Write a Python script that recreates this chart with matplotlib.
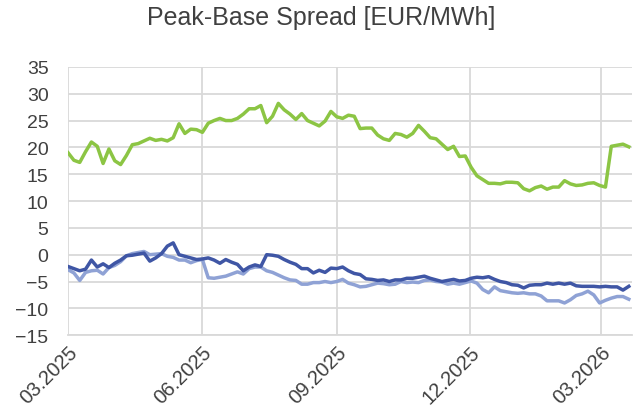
import pandas as pd
import matplotlib
matplotlib.use("Agg")
import matplotlib.pyplot as plt
import matplotlib.dates as mdates

plt.rcParams['font.family'] = ['Liberation Sans', 'DejaVu Sans']

# one reading every four days, starting 01.03.2025
dates = pd.date_range('2025-03-01', periods=97, freq='4D')

spread_green = [
    19.0, 17.6, 17.2, 19.2, 21.0, 20.2, 17.0, 19.7, 17.5, 16.8,
    18.5, 20.5, 20.7, 21.2, 21.7, 21.3, 21.5, 21.2, 21.8, 24.4,
    22.6, 23.4, 23.3, 22.8, 24.5, 25.0, 25.4, 25.0, 25.0, 25.4,
    26.2, 27.2, 27.2, 27.8, 24.6, 25.8, 28.2, 27.0, 26.2, 25.2,
    26.3, 25.0, 24.5, 24.0, 24.9, 26.7, 25.7, 25.4, 26.0, 25.8,
    23.5, 23.6, 23.6, 22.3, 21.6, 21.3, 22.6, 22.4, 21.9, 22.6,
    24.1, 23.0, 21.8, 21.6, 20.6, 19.6, 20.2, 18.3, 18.4, 16.3,
    14.7, 14.0, 13.3, 13.3, 13.2, 13.5, 13.5, 13.4, 12.3, 11.9,
    12.5, 12.8, 12.2, 12.6, 12.6, 13.8, 13.2, 12.9, 13.0, 13.3,
    13.4, 12.9, 12.6, 20.2, 20.4, 20.6, 20.1,
]

spread_dark = [
    -2.2, -2.6, -3.0, -2.7, -1.0, -2.3, -1.7, -2.4, -1.6, -1.0,
    -0.2, -0.1, 0.1, 0.3, -1.2, -0.6, 0.2, 1.6, 2.2, 0.0,
    -0.3, -0.6, -0.9, -0.8, -0.6, -1.0, -1.6, -0.9, -1.4, -1.8,
    -3.0, -2.3, -1.9, -2.2, 0.0, -0.1, -0.3, -0.9, -1.4, -1.8,
    -2.6, -2.6, -3.4, -2.9, -3.3, -2.5, -2.6, -2.3, -3.0, -3.5,
    -3.7, -4.5, -4.6, -4.8, -4.7, -5.0, -4.7, -4.7, -4.4, -4.4,
    -4.2, -4.0, -4.4, -4.7, -5.0, -4.8, -4.6, -4.9, -4.8, -4.4,
    -4.2, -4.3, -4.1, -4.6, -5.0, -5.2, -5.6, -5.7, -6.2, -5.7,
    -5.6, -5.6, -5.3, -5.5, -5.3, -5.5, -5.3, -5.8, -5.9, -5.9,
    -5.9, -6.0, -5.9, -6.0, -6.0, -6.6, -5.9,
]

spread_light = [
    -2.8, -3.4, -4.8, -3.3, -3.0, -2.9, -3.6, -2.4, -2.0, -1.3,
    -0.2, 0.2, 0.4, 0.6, 0.0, 0.1, 0.2, -0.3, -0.5, -1.0,
    -1.0, -1.5, -1.1, -0.9, -4.3, -4.4, -4.2, -4.0, -3.6, -3.2,
    -3.6, -2.6, -2.3, -2.3, -3.0, -3.3, -3.8, -4.3, -4.7, -4.8,
    -5.5, -5.5, -5.2, -5.2, -5.0, -5.2, -5.0, -4.6, -5.3, -5.6,
    -6.0, -5.9, -5.6, -5.3, -5.4, -5.6, -5.5, -5.0, -5.2, -5.1,
    -5.2, -4.8, -4.7, -5.0, -5.1, -5.5, -5.3, -5.5, -5.2, -4.9,
    -5.3, -6.5, -7.1, -6.0, -6.7, -6.9, -7.1, -7.2, -7.1, -7.3,
    -7.3, -7.7, -8.6, -8.6, -8.6, -9.0, -8.4, -7.6, -7.3, -6.8,
    -7.5, -9.0, -8.5, -8.1, -7.8, -7.8, -8.3,
]

tick_dates = pd.to_datetime(['2025-03-01', '2025-06-01', '2025-09-01',
                             '2025-12-01', '2026-03-01'])
y_ticks = list(range(-15, 36, 5))

fig = plt.figure(figsize=(6.42, 4.14), dpi=100)
ax = fig.add_axes([0.106, 0.188, 0.878, 0.648])

ax.plot(dates, spread_light, color='#8FA2D5', lw=2.5, zorder=3)
ax.plot(dates, spread_dark, color='#3F56A5', lw=2.5, zorder=4)
ax.plot(dates, spread_green, color='#8CC544', lw=2.5, zorder=5)

ax.set_xlim(pd.Timestamp('2025-03-01'), pd.Timestamp('2026-03-22'))
ax.set_ylim(-15, 35)
ax.set_yticks(y_ticks)
ax.set_xticks(tick_dates)
ax.xaxis.set_major_formatter(mdates.DateFormatter('%m.%Y'))

ax.grid(True, color='#D9D9D9', lw=1.3)
ax.set_axisbelow(True)
for side in ['top', 'right', 'left']:
    ax.spines[side].set_visible(False)
ax.spines['bottom'].set_color('#D9D9D9')
ax.spines['bottom'].set_linewidth(1.3)

ax.tick_params(length=0, colors='#404040')
ax.tick_params(axis='y', labelsize=14, pad=14)
ax.tick_params(axis='x', labelsize=14.5, pad=5)
plt.setp(ax.get_xticklabels(), rotation=45, ha='right', rotation_mode='anchor')

fig.suptitle('Peak-Base Spread [EUR/MWh]', x=0.5, y=0.985, fontsize=18,
             color='#404040')

fig.savefig('out.png', dpi=100)
